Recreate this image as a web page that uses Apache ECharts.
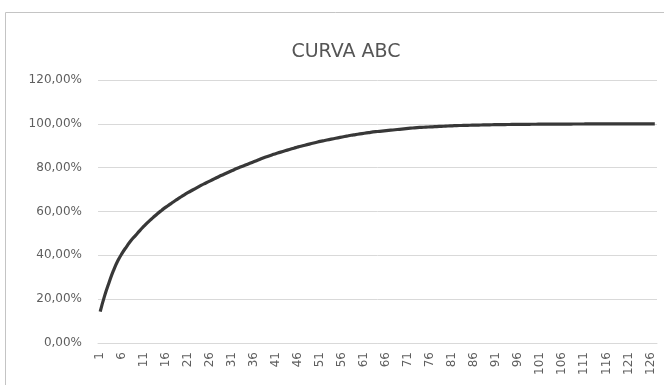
<!DOCTYPE html>
<html>
<head>
<meta charset="utf-8">
<style>
  html, body { margin: 0; padding: 0; background: #ffffff; }
  #chart { width: 664px; height: 385px; }
</style>
<script src="https://cdn.jsdelivr.net/npm/echarts@6/dist/echarts.min.js"></script>
</head>
<body>
<div id="chart"></div>
<script>
// Cumulative share (%) of each item, ranked 1..127
const items = [];
for (let i = 1; i <= 127; i++) items.push(String(i));

const cumulativePct = [
  14.3, 21.5, 27.5, 33.0, 37.5, 41.0, 44.0, 46.8, 49.0, 51.3,
  53.4, 55.4, 57.2, 59.0, 60.6, 62.1, 63.5, 64.9, 66.2, 67.5,
  68.7, 69.8, 70.9, 72.0, 73.0, 74.0, 75.0, 76.0, 76.9, 77.8,
  78.7, 79.6, 80.4, 81.2, 82.0, 82.8, 83.6, 84.4, 85.1, 85.8,
  86.5, 87.1, 87.7, 88.3, 88.9, 89.5, 90.0, 90.5, 91.0, 91.5,
  92.0, 92.4, 92.8, 93.2, 93.6, 94.0, 94.4, 94.8, 95.1, 95.4,
  95.7, 96.0, 96.3, 96.5, 96.7, 96.9, 97.1, 97.3, 97.5, 97.7,
  97.9, 98.1, 98.3, 98.4, 98.5, 98.6, 98.7, 98.8, 98.9, 99.0,
  99.1, 99.2, 99.25, 99.3, 99.35, 99.4, 99.45, 99.5, 99.54, 99.58,
  99.62, 99.65, 99.68, 99.7, 99.72, 99.74, 99.76, 99.78, 99.8, 99.82,
  99.84, 99.85, 99.86, 99.87, 99.88, 99.89, 99.9, 99.91, 99.92, 99.93,
  99.94, 99.95, 99.95, 99.96, 99.96, 99.97, 99.97, 99.98, 99.98, 99.99,
  99.99, 99.99, 100.0, 100.0, 100.0, 100.0, 100.0
];

const chartTitle = 'CURVA ABC';

const fontFamily = '"DejaVu Sans", sans-serif';
const textColor = '#5f5f5f';
const gridColor = '#d9d9d9';

const chart = echarts.init(document.getElementById('chart'), null, { renderer: 'canvas' });

chart.setOption({
  backgroundColor: '#ffffff',
  animation: false,
  title: {
    text: chartTitle,
    left: 341,
    top: 38,
    textAlign: 'center',
    textStyle: { fontFamily, fontSize: 19, fontWeight: 'normal', color: '#555555' }
  },
  graphic: [{
    type: 'rect',
    shape: { x: 5.5, y: 12.5, width: 700, height: 420 },
    style: { fill: 'none', stroke: '#c4c4c4', lineWidth: 1 },
    silent: true
  }],
  grid: { left: 98, right: 7, top: 80, bottom: 42, containLabel: false },
  xAxis: {
    type: 'category',
    data: items,
    boundaryGap: true,
    axisLine: { show: true, lineStyle: { color: gridColor } },
    axisTick: { show: false },
    axisLabel: {
      interval: 4,
      rotate: 90,
      margin: 9,
      fontFamily, fontSize: 12, color: textColor
    },
    splitLine: { show: false }
  },
  yAxis: {
    type: 'value',
    min: 0,
    max: 120,
    interval: 20,
    axisLine: { show: false },
    axisTick: { show: false },
    axisLabel: {
      margin: 16,
      fontFamily, fontSize: 12, color: textColor,
      formatter: v => v.toFixed(2).replace('.', ',') + '%'
    },
    splitLine: { show: true, lineStyle: { color: gridColor, width: 1 } }
  },
  series: [{
    type: 'line',
    data: cumulativePct,
    showSymbol: false,
    smooth: true,
    lineStyle: { color: '#383838', width: 3.2 }
  }]
});
</script>
</body>
</html>
